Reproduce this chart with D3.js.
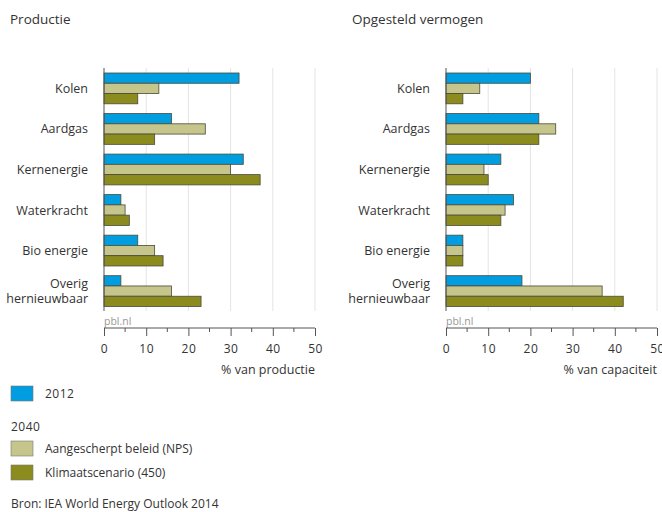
<!DOCTYPE html>
<html>
<head>
<meta charset="utf-8">
<script src="https://cdn.jsdelivr.net/npm/d3@7"></script>
<style>
body { margin: 0; background: #fff; }
svg text { font-family: "Open Sans", "Noto Sans", sans-serif; fill: #333; }
svg text.num { letter-spacing: 0.5px; }
</style>
</head>
<body>
<svg id="chart" width="662" height="512"></svg>
<script>
// categories and series
var categories = ["Kolen", "Aardgas", "Kernenergie", "Waterkracht", "Bio energie", "Overig hernieuwbaar"];
var series = ["2012", "Aangescherpt beleid (NPS)", "Klimaatscenario (450)"];
var colors = ["#009ee0", "#c6c68c", "#8c8c1e"];

// % van productie
var productie2012 = [32, 16, 33, 4, 8, 4];
var productieNPS = [13, 24, 30, 5, 12, 16];
var productie450 = [8, 12, 37, 6, 14, 23];

// % van capaciteit
var vermogen2012 = [20, 22, 13, 16, 4, 18];
var vermogenNPS = [8, 26, 9, 14, 4, 37];
var vermogen450 = [4, 22, 10, 13, 4, 42];

var xTicks = [0, 10, 20, 30, 40, 50];

var svg = d3.select("#chart");

/**
 * Draw one panel of grouped horizontal bars
 */
var drawPanel = function(opts) {
    let g = svg.append("g");
    let x = d3.scaleLinear().domain([0, 50]).range([opts.left, opts.left + 211]);
    let y = d3.scaleBand().domain(categories).range([73, 306.5]).paddingInner(0.24).paddingOuter(0);
    let sub = d3.scaleBand().domain(d3.range(3)).range([0, y.bandwidth()]);

    svg.append("text")
        .attr("x", opts.titleX).attr("y", 24)
        .style("font-size", "13.5px")
        .text(opts.title);

    // gridlines
    g.selectAll(".grid")
        .data(xTicks.slice(1))
        .enter().append("line")
        .attr("x1", d => x(d)).attr("x2", d => x(d))
        .attr("y1", 68).attr("y2", 311)
        .attr("stroke", "#e4e4e4");

    let rows = g.selectAll(".row")
        .data(categories)
        .enter().append("g")
        .attr("transform", d => "translate(0," + y(d) + ")");

    rows.selectAll("rect")
        .data((d, i) => opts.values.map((v, s) => ({ s: s, v: v[i] })))
        .enter().append("rect")
        .attr("x", x(0))
        .attr("y", d => sub(d.s))
        .attr("width", d => x(d.v) - x(0))
        .attr("height", sub.bandwidth())
        .attr("fill", d => colors[d.s])
        .attr("stroke", "#4a4a3a")
        .attr("stroke-width", 0.8);

    // category labels, long one wrapped on two lines
    rows.each(function(d) {
        let words = d === "Overig hernieuwbaar" ? ["Overig", "hernieuwbaar"] : [d];
        let row = d3.select(this);
        words.forEach(function(w, k) {
            row.append("text")
                .attr("text-anchor", "end")
                .style("font-size", "12.5px")
                .attr("x", x(0) - 16)
                .attr("y", y.bandwidth() / 2 + 4.5 + (k - (words.length - 1) / 2) * 15)
                .text(w);
        });
    });

    // vertical axis line
    g.append("line")
        .attr("x1", x(0)).attr("x2", x(0))
        .attr("y1", 68).attr("y2", 311)
        .attr("stroke", "#555");

    svg.append("text")
        .attr("x", x(0)).attr("y", 325)
        .style("font-size", "10.5px")
        .style("fill", "#999")
        .text("pbl.nl");

    // x axis
    let axis = svg.append("g")
        .attr("transform", "translate(0,328)")
        .call(d3.axisBottom(x).tickValues(xTicks).tickSize(8).tickPadding(8));
    axis.select(".domain").attr("stroke", "#555").attr("d", "M" + x(0) + ",0H" + x(50));
    axis.selectAll(".tick line").attr("stroke", "#555");
    axis.selectAll(".tick text")
        .attr("class", "num")
        .style("font-size", "12px").attr("fill", "#333");
    axis.selectAll(".minor")
        .data([5, 15, 25, 35, 45])
        .enter().append("line")
        .attr("x1", d => x(d)).attr("x2", d => x(d))
        .attr("y1", 0).attr("y2", 4)
        .attr("stroke", "#555");

    svg.append("text")
        .attr("x", x(50)).attr("y", 374)
        .attr("text-anchor", "end")
        .style("font-size", "12.5px")
        .text(opts.axisTitle);
};

drawPanel({
    left: 104, titleX: 10, title: "Productie", axisTitle: "% van productie",
    values: [productie2012, productieNPS, productie450]
});

drawPanel({
    left: 446, titleX: 352, title: "Opgesteld vermogen", axisTitle: "% van capaciteit",
    values: [vermogen2012, vermogenNPS, vermogen450]
});

// legend
var legendItems = [
    { s: 0, y: 386 },
    { s: 1, y: 441 },
    { s: 2, y: 465 }
];
var legend = svg.append("g");
legend.selectAll("rect")
    .data(legendItems)
    .enter().append("rect")
    .attr("x", 11).attr("y", d => d.y)
    .attr("width", 22).attr("height", 15)
    .attr("fill", d => colors[d.s])
    .attr("stroke", "#777").attr("stroke-width", 0.6);
legend.selectAll("text")
    .data(legendItems)
    .enter().append("text")
    .attr("class", d => d.s === 0 ? "num" : null)
    .attr("x", 45).attr("y", d => d.y + 12)
    .style("font-size", "12px")
    .text(d => series[d.s]);

svg.append("text")
    .attr("class", "num")
    .attr("x", 11).attr("y", 431)
    .style("font-size", "12px")
    .text("2040");

svg.append("text")
    .attr("x", 11).attr("y", 508)
    .style("font-size", "12px")
    .text("Bron: IEA World Energy Outlook 2014");
</script>
</body>
</html>
